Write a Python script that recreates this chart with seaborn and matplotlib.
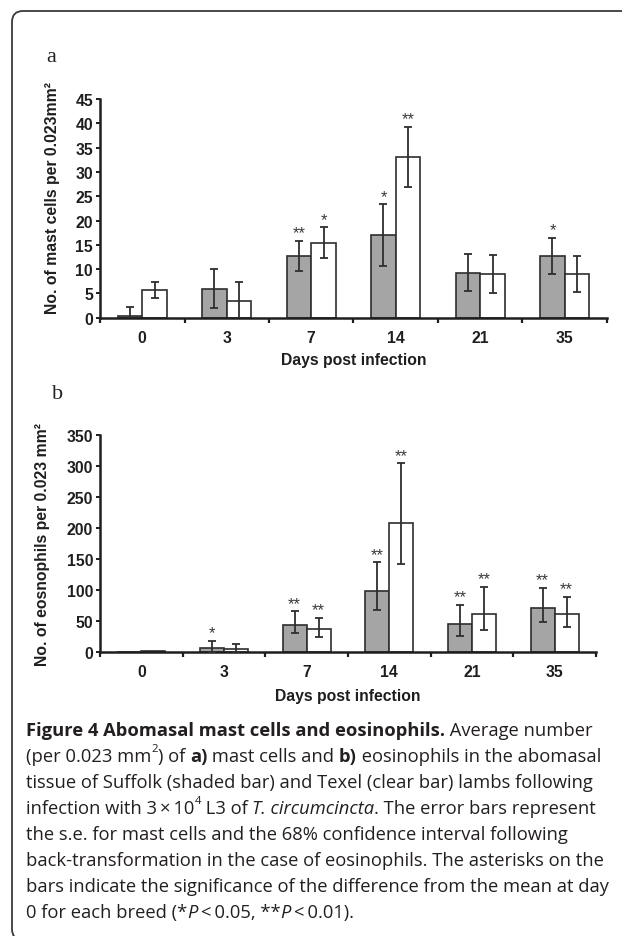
import numpy as np
import pandas as pd
import matplotlib
matplotlib.use("Agg")
import matplotlib.pyplot as plt
import seaborn as sns
from matplotlib.path import Path
from matplotlib.patches import PathPatch

# ---------------- data ----------------
days = ["0", "3", "7", "14", "21", "35"]
breeds = ["Suffolk", "Texel"]

# panel a: mast cells (mean +/- s.e.)
mast_suffolk = [0.3, 6.0, 12.7, 17.0, 9.3, 12.7]
mast_suffolk_se = [2.0, 4.0, 3.1, 6.3, 3.9, 3.7]
mast_texel = [5.7, 3.4, 15.4, 33.1, 9.0, 9.0]
mast_texel_se = [1.7, 4.0, 3.2, 6.2, 3.9, 3.7]
mast_sig_suffolk = ["", "", "**", "*", "", "*"]
mast_sig_texel = ["", "", "*", "**", "", ""]

# panel b: eosinophils (mean, 68% CI lower/upper)
eos_suffolk = [0.0, 7.0, 43.5, 98.9, 44.6, 71.0]
eos_suffolk_lo = [np.nan, 0.0, 30.6, 67.1, 25.3, 47.8]
eos_suffolk_hi = [np.nan, 17.7, 65.6, 144.7, 75.8, 103.8]
eos_texel = [1.5, 4.3, 37.6, 208.4, 61.8, 60.7]
eos_texel_lo = [np.nan, 0.0, 24.2, 142.6, 36.0, 40.3]
eos_texel_hi = [np.nan, 12.9, 55.4, 304.7, 105.4, 88.7]
eos_sig_suffolk = ["", "*", "**", "**", "**", "**"]
eos_sig_texel = ["", "", "**", "**", "**", "**"]

mast_yticks = list(range(0, 50, 5))
eos_yticks = list(range(0, 400, 50))

# ---------------- style ----------------
sns.set_style("white")
plt.rcParams["font.family"] = ["Liberation Sans", "DejaVu Sans"]

W, H = 622, 937
fig = plt.figure(figsize=(W / 100, H / 100), dpi=100)

GRAY = "#a5a5a5"
EDGE = "#2e2e2e"
AX = "#1e1e1e"
FS = 11.3
palette = {"Suffolk": GRAY, "Texel": "white"}


def ax_rect(x0, x1, ytop, ybot):
    return [x0 / W, 1 - ybot / H, (x1 - x0) / W, (ybot - ytop) / H]


def panel(ax, m1, lo1, hi1, m2, lo2, hi2, sig1, sig2, yticks, ylabel, ylab_x, ylab_y):
    df = pd.DataFrame({
        "day": days * 2,
        "breed": [breeds[0]] * len(days) + [breeds[1]] * len(days),
        "value": list(m1) + list(m2),
    })
    sns.barplot(data=df, x="day", y="value", hue="breed", order=days,
                hue_order=breeds, palette=palette, edgecolor=EDGE,
                linewidth=1.2, width=0.58, errorbar=None, legend=False,
                ax=ax, zorder=2)
    for cont, means, los, his, sigs in zip(ax.containers, [m1, m2], [lo1, lo2],
                                           [hi1, hi2], [sig1, sig2]):
        for bar, m, lo, hi, s in zip(cont, means, los, his, sigs):
            xc = bar.get_x() + bar.get_width() / 2
            if np.isfinite(lo) and np.isfinite(hi):
                ax.errorbar(xc, m, yerr=[[m - lo], [hi - m]], fmt="none",
                            ecolor=EDGE, elinewidth=1.3, capsize=3.0,
                            capthick=1.3, zorder=3)
                top = hi
            else:
                top = m
            if s:
                ax.annotate(s, (xc, top), xytext=(0, 0.3),
                            textcoords="offset points", ha="center",
                            va="bottom", fontsize=12, color="#3a3a3a")
    ax.set_xlim(-0.5, len(days) - 0.5)
    ax.set_ylim(0, yticks[-1])
    ax.set_yticks(yticks)
    ax.set_xticks(range(len(days)))
    ax.set_xticklabels(days)
    ax.set_xticks(np.arange(-0.5, len(days), 1.0), minor=True)
    ax.tick_params(axis="x", which="major", length=0, pad=8.5,
                   labelsize=FS, labelcolor=AX)
    ax.tick_params(axis="x", which="minor", length=3.5, width=1.6,
                   color=AX, direction="out", bottom=True)
    ax.tick_params(axis="y", which="major", length=3, width=1.4, pad=2,
                   color=AX, direction="out", left=True, labelsize=FS,
                   labelcolor=AX)
    for lab in ax.get_xticklabels() + ax.get_yticklabels():
        lab.set_fontweight("bold")
    for sp in ["top", "right"]:
        ax.spines[sp].set_visible(False)
    for sp in ["left", "bottom"]:
        ax.spines[sp].set_linewidth(1.8)
        ax.spines[sp].set_color(AX)
    ax.set_ylabel(ylabel, fontsize=FS, fontweight="bold", color=AX, va="center")
    ax.yaxis.set_label_coords(ylab_x, ylab_y)
    ax.set_xlabel("Days post infection", fontsize=FS, fontweight="bold",
                  color=AX, va="center")
    ax.set_facecolor("white")


ax1 = fig.add_axes(ax_rect(100, 607, 100, 318.7))
panel(ax1, mast_suffolk,
      [m - s for m, s in zip(mast_suffolk, mast_suffolk_se)],
      [m + s for m, s in zip(mast_suffolk, mast_suffolk_se)],
      mast_texel,
      [m - s for m, s in zip(mast_texel, mast_texel_se)],
      [m + s for m, s in zip(mast_texel, mast_texel_se)],
      mast_sig_suffolk, mast_sig_texel, mast_yticks,
      "No. of mast cells per 0.023mm²", (53 - 100) / 507, 0.55)
ax1.xaxis.set_label_coords(0.5, -(361 - 318.7) / 218.7)

ax2 = fig.add_axes(ax_rect(100, 596, 436, 653))
panel(ax2, eos_suffolk, eos_suffolk_lo, eos_suffolk_hi,
      eos_texel, eos_texel_lo, eos_texel_hi,
      eos_sig_suffolk, eos_sig_texel, eos_yticks,
      "No. of eosnophils per 0.023 mm²", (43 - 100) / 496, 0.5)
ax2.xaxis.set_label_coords(0.5, -(697 - 653) / 217)

# overlay in pixel coordinates for border & letters
ov = fig.add_axes([0, 0, 1, 1], zorder=-1)
ov.set_xlim(0, W)
ov.set_ylim(H, 0)
ov.axis("off")
r = 11
verts = [(W + 20, 12), (12 + r, 12), (12, 12), (12, 12 + r),
         (12, H + 4 - r), (12, H + 4), (12 + r, H + 4), (W + 20, H + 4)]
codes = [Path.MOVETO, Path.LINETO, Path.CURVE3, Path.CURVE3,
         Path.LINETO, Path.CURVE3, Path.CURVE3, Path.LINETO]
ov.add_patch(PathPatch(Path(verts, codes), fill=False, edgecolor="#3a3a3a",
                       linewidth=1.3, clip_on=False))

ov.text(46, 58, "a", fontsize=16, family="Liberation Serif",
        ha="left", va="center", color="#222222")
ov.text(52, 395, "b", fontsize=16, family="Liberation Serif",
        ha="left", va="center", color="#222222")

# caption with mixed styles
CAP_FS = 13.2
CAP_COL = "#231f20"
cap_lines = [
    [("Figure 4 Abomasal mast cells and eosinophils.", "bold", "normal", False),
     (" Average number", "normal", "normal", False)],
    [("(per 0.023 mm", "normal", "normal", False), ("2", "normal", "normal", True),
     (") of ", "normal", "normal", False), ("a)", "bold", "normal", False),
     (" mast cells and ", "normal", "normal", False), ("b)", "bold", "normal", False),
     (" eosinophils in the abomasal", "normal", "normal", False)],
    [("tissue of Suffolk (shaded bar) and Texel (clear bar) lambs following",
      "normal", "normal", False)],
    [("infection with 3\u2009×\u200910", "normal", "normal", False),
     ("4", "normal", "normal", True), (" L3 of ", "normal", "normal", False),
     ("T. circumcincta", "normal", "italic", False),
     (". The error bars represent", "normal", "normal", False)],
    [("the s.e. for mast cells and the 68% confidence interval following",
      "normal", "normal", False)],
    [("back-transformation in the case of eosinophils. The asterisks on the",
      "normal", "normal", False)],
    [("bars indicate the significance of the difference from the mean at day",
      "normal", "normal", False)],
    [("0 for each breed (*", "normal", "normal", False), ("P", "normal", "italic", False),
     ("\u2009<\u20090.05, **", "normal", "normal", False), ("P", "normal", "italic", False),
     ("\u2009<\u20090.01).", "normal", "normal", False)],
]
renderer = fig.canvas.get_renderer()
y0 = 731
for i, line in enumerate(cap_lines):
    x = 26.0
    y = y0 + i * 26.0
    for s, weight, style, sup in line:
        fs = CAP_FS * 0.62 if sup else CAP_FS
        yy = y - 7 if sup else y
        t = fig.text(x / W, 1 - yy / H, s, fontsize=fs, fontweight=weight,
                     fontstyle=style, family=["Open Sans", "DejaVu Sans"],
                     color=CAP_COL, ha="left", va="center")
        bb = t.get_window_extent(renderer)
        x += bb.width

fig.savefig("out.png", dpi=100, facecolor="white")
